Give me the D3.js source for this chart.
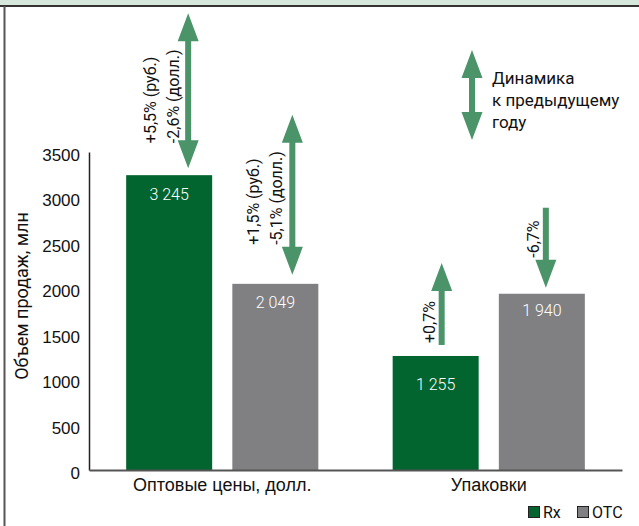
<!DOCTYPE html>
<html>
<head>
<meta charset="utf-8">
<script src="https://cdn.jsdelivr.net/npm/d3@7"></script>
<style>
  body { margin: 0; background: #fff; }
  svg { display: block; font-family: Roboto, "Noto Sans", sans-serif; }
</style>
</head>
<body>
<script>
// Chart data
var categories = ["Оптовые цены, долл.", "Упаковки"];
var seriesNames = ["Rx", "OTC"];
var rxValues = [3245, 1255];
var otcValues = [2049, 1940];
var valueLabels = [["3 245", "2 049"], ["1 255", "1 940"]];
var yTicks = [0, 500, 1000, 1500, 2000, 2500, 3000, 3500];
var yTitle = "Объем продаж, млн";

// Change vs. previous year, one entry per bar (Rx1, OTC1, Rx2, OTC2)
var changeTexts = [["+5,5% (руб.)", "-2,6% (долл.)"], ["+1,5% (руб.)", "-5,1% (долл.)"], ["+0,7%"], ["-6,7%"]];
var changeDirs = ["both", "both", "up", "down"];
var legendNote = ["Динамика", "к предыдущему", "году"];

// Arrow layout (pixels): offset from bar centre, gap above bar, length, text gap/offset
var arrowLayout = [
  {dx: 19, gap: 7, len: 155, textGap: 25, textDx: -15},
  {dx: 17, gap: 9, len: 160, textGap: 30, textDx: -16},
  {dx: 6, gap: 12, len: 81, textGap: 1, textDx: -12},
  {dx: 4, gap: 6, len: 79, textGap: 30, textDx: -12}
];
var labelOffsets = [19, 19, 28, 17];

var colors = {Rx: "#02652f", OTC: "#808083"};
var arrowColor = "#4b946a";

var W = 639, H = 526;
var svg = d3.select("body").append("svg")
    .attr("width", W)
    .attr("height", H);

// frame: top band and left border
svg.append("rect").attr("x", 0).attr("y", 0).attr("width", W).attr("height", 5).attr("fill", "#d6e7db");
svg.append("line").attr("x1", 0).attr("x2", W).attr("y1", 6).attr("y2", 6)
    .attr("stroke", "#333").attr("stroke-width", 2);
svg.append("line").attr("x1", 4.5).attr("x2", 4.5).attr("y1", 6).attr("y2", H)
    .attr("stroke", "#555").attr("stroke-width", 2);

// scales
var x0 = d3.scaleBand().domain(categories).range([89, 622]);
var x1 = d3.scaleBand().domain(seriesNames).range([0, x0.bandwidth()])
    .paddingInner(0.19).paddingOuter(0.35);
var y = d3.scaleLinear().domain([0, 3500]).range([470, 152]);

// y axis
var yAxis = svg.append("g")
    .attr("transform", "translate(89,0)")
    .call(d3.axisLeft(y).tickValues(yTicks).tickSize(0).tickPadding(9).tickFormat(d3.format("d")));
yAxis.select(".domain").attr("stroke", "#222").attr("stroke-width", 1.5);
yAxis.selectAll("text").attr("font-size", 17).attr("font-family", null).attr("fill", "#111").attr("dy", "0.5em");

svg.append("text")
    .attr("transform", "translate(22,296) rotate(-90)")
    .attr("text-anchor", "middle")
    .attr("dy", "0.35em")
    .attr("font-size", 18)
    .attr("fill", "#111")
    .text(yTitle);

// bars
var bars = [];
categories.forEach(function(c, i) {
  bars.push({cat: c, s: "Rx", v: rxValues[i], label: valueLabels[i][0]});
  bars.push({cat: c, s: "OTC", v: otcValues[i], label: valueLabels[i][1]});
});
// order: Rx1, OTC1, Rx2, OTC2
bars.forEach(function(d, i) {
  d.x = x0(d.cat) + x1(d.s);
  d.cx = d.x + x1.bandwidth() / 2;
  d.top = y(d.v);
});

svg.selectAll("rect.bar")
    .data(bars)
    .enter().append("rect")
    .attr("class", "bar")
    .attr("x", function(d) { return d.x; })
    .attr("y", function(d) { return d.top; })
    .attr("width", x1.bandwidth())
    .attr("height", function(d) { return y(0) - d.top; })
    .attr("fill", function(d) { return colors[d.s]; });

svg.selectAll("text.val")
    .data(bars)
    .enter().append("text")
    .attr("class", "val")
    .attr("x", function(d) { return d.cx; })
    .attr("y", function(d, i) { return d.top + labelOffsets[i]; })
    .attr("dy", "0.35em")
    .attr("text-anchor", "middle")
    .attr("font-size", 16)
    .attr("font-weight", 300)
    .attr("fill", "#fff")
    .text(function(d) { return d.label; });

// x axis
var xAxis = svg.append("g")
    .attr("transform", "translate(0,470)")
    .call(d3.axisBottom(x0).tickSize(0).tickPadding(8));
xAxis.select(".domain").attr("stroke", "#555").attr("stroke-width", 2);
xAxis.selectAll("text").attr("font-size", 18).attr("font-family", null).attr("fill", "#111");

// arrows
var shaftW = 6, headW = 21, headL = 28;
function drawArrow(g, x, yTop, yBot, dir) {
  var p = d3.path();
  var upHead = dir === "both" || dir === "up";
  var downHead = dir === "both" || dir === "down";
  var s1 = upHead ? yTop + headL : yTop;
  var s2 = downHead ? yBot - headL : yBot;
  g.append("rect").attr("x", x - shaftW / 2).attr("y", s1 - 1).attr("width", shaftW)
      .attr("height", s2 - s1 + 2).attr("fill", arrowColor);
  if (upHead) {
    p.moveTo(x, yTop); p.lineTo(x + headW / 2, yTop + headL); p.lineTo(x - headW / 2, yTop + headL); p.closePath();
  }
  if (downHead) {
    p.moveTo(x, yBot); p.lineTo(x + headW / 2, yBot - headL); p.lineTo(x - headW / 2, yBot - headL); p.closePath();
  }
  g.append("path").attr("d", p.toString()).attr("fill", arrowColor);
}

var ann = svg.append("g");
bars.forEach(function(d, i) {
  var L = arrowLayout[i];
  var ax = d.cx + L.dx;
  var yBot = d.top - L.gap;
  var yTop = yBot - L.len;
  drawArrow(ann, ax, yTop, yBot, changeDirs[i]);
  var lines = changeTexts[i];
  lines.forEach(function(t, j) {
    var tx = ax + L.textDx - (lines.length - 1 - j) * 23;
    ann.append("text")
        .attr("transform", "translate(" + tx + "," + (yBot - L.textGap) + ") rotate(-90)")
        .attr("dy", "0.35em")
        .attr("font-size", 16)
        .attr("fill", "#111")
        .text(t);
  });
});

// legend note
drawArrow(ann, 472, 50, 140, "both");
svg.selectAll("text.note")
    .data(legendNote)
    .enter().append("text")
    .attr("class", "note")
    .attr("x", 492)
    .attr("y", function(d, i) { return 78 + i * 22; })
    .attr("dy", "0.35em")
    .attr("font-size", 17)
    .attr("fill", "#111")
    .text(function(d) { return d; });

// legend
var leg = svg.append("g").attr("transform", "translate(528,506)");
var legX = [0, 49];
seriesNames.forEach(function(s, i) {
  leg.append("rect").attr("x", legX[i] + 0.5).attr("y", 0.5).attr("width", 11).attr("height", 11)
      .attr("fill", colors[s]).attr("stroke", "#222").attr("stroke-width", 1);
  leg.append("text").attr("x", legX[i] + 15).attr("y", 6).attr("dy", "0.35em")
      .attr("font-size", 16).attr("fill", "#111").text(s);
});
</script>
</body>
</html>
